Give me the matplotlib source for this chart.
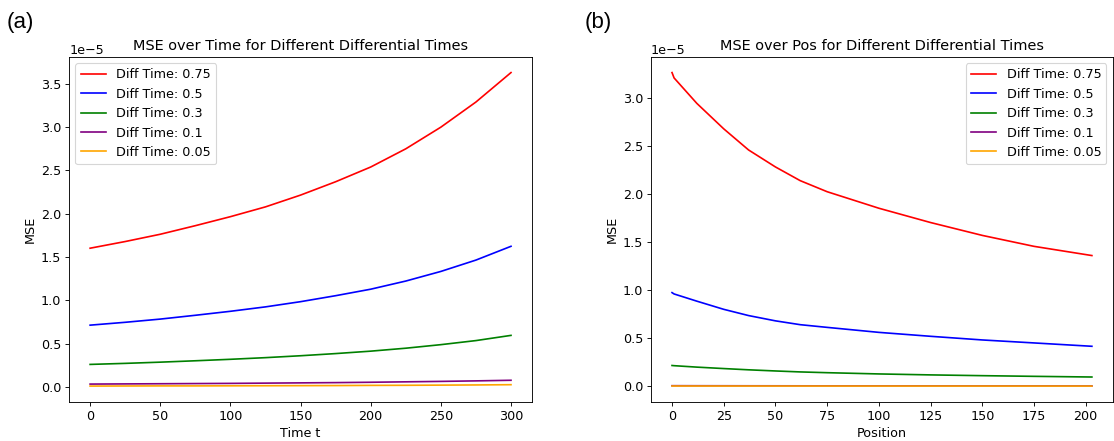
import matplotlib
matplotlib.use("Agg")
import matplotlib.pyplot as plt

# values in units of 1e-5
labels = ["Diff Time: 0.75", "Diff Time: 0.5", "Diff Time: 0.3", "Diff Time: 0.1", "Diff Time: 0.05"]
colors = ["red", "blue", "green", "purple", "orange"]

time_t = [0, 25, 50, 75, 100, 125, 150, 175, 200, 225, 250, 275, 300]
mse_time_075 = [1.603, 1.68, 1.764, 1.863, 1.967, 2.08, 2.216, 2.37, 2.54, 2.75, 3.00, 3.29, 3.63]
mse_time_05 = [0.715, 0.748, 0.785, 0.829, 0.875, 0.926, 0.986, 1.055, 1.13, 1.224, 1.335, 1.466, 1.625]
mse_time_03 = [0.262, 0.274, 0.288, 0.304, 0.321, 0.34, 0.362, 0.387, 0.415, 0.449, 0.49, 0.537, 0.597]
mse_time_01 = [0.035, 0.037, 0.039, 0.041, 0.043, 0.046, 0.049, 0.052, 0.056, 0.061, 0.066, 0.072, 0.079]
mse_time_005 = [0.012, 0.013, 0.014, 0.014, 0.015, 0.016, 0.017, 0.018, 0.020, 0.021, 0.023, 0.025, 0.028]

position = [0, 1, 12, 25, 37, 50, 62, 75, 100, 125, 150, 175, 203]
mse_pos_075 = [3.266, 3.21, 2.945, 2.68, 2.46, 2.283, 2.14, 2.025, 1.853, 1.704, 1.57, 1.456, 1.36]
mse_pos_05 = [0.974, 0.96, 0.885, 0.80, 0.735, 0.68, 0.64, 0.612, 0.56, 0.519, 0.481, 0.45, 0.415]
mse_pos_03 = [0.215, 0.213, 0.198, 0.183, 0.17, 0.158, 0.148, 0.14, 0.127, 0.117, 0.109, 0.102, 0.095]
mse_pos_01 = [0.0045, 0.0045, 0.0042, 0.0039, 0.0036, 0.0034, 0.0032, 0.003, 0.0028, 0.0026, 0.0024, 0.0022, 0.002]
mse_pos_005 = [0.0012, 0.0012, 0.0011, 0.001, 0.001, 0.0009, 0.0009, 0.0008, 0.0008, 0.0007, 0.0007, 0.0006, 0.0006]

time_series = [mse_time_075, mse_time_05, mse_time_03, mse_time_01, mse_time_005]
pos_series = [mse_pos_075, mse_pos_05, mse_pos_03, mse_pos_01, mse_pos_005]

plt.rcParams["font.size"] = 11.5

fig = plt.figure(figsize=(1114 / 80, 441 / 80), dpi=80)
ax1 = fig.add_axes([0.062, 0.089, 0.4156, 0.782])
ax2 = fig.add_axes([0.5844, 0.089, 0.4146, 0.782])

for ys, c, lab in zip(time_series, colors, labels):
    ax1.plot(time_t, [v * 1e-5 for v in ys], color=c, label=lab)
ax1.set_title("MSE over Time for Different Differential Times", fontsize=13)
ax1.set_xlabel("Time t")
ax1.set_ylabel("MSE")
ax1.legend(loc="upper left")

for ys, c, lab in zip(pos_series, colors, labels):
    ax2.plot(position, [v * 1e-5 for v in ys], color=c, label=lab)
ax2.set_title("MSE over Pos for Different Differential Times", fontsize=13)
ax2.set_xlabel("Position")
ax2.set_ylabel("MSE")
ax2.legend(loc="upper right")

fig.text(0.006, 0.95, "(a)", fontsize=20, family="Liberation Sans", va="center")
fig.text(0.525, 0.95, "(b)", fontsize=20, family="Liberation Sans", va="center")

fig.savefig("out.png", dpi=80)
